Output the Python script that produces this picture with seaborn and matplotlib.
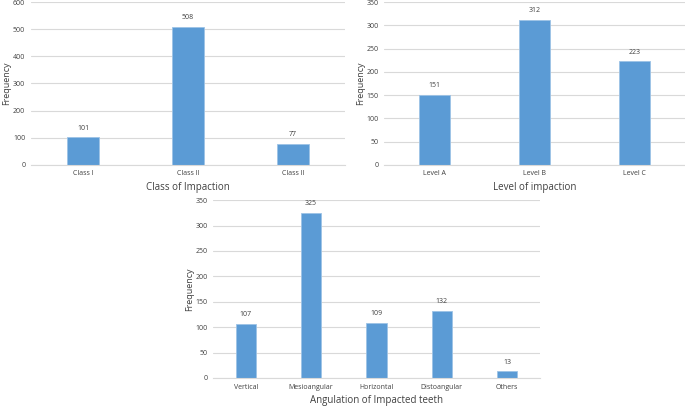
import pandas as pd
import matplotlib
matplotlib.use('Agg')
import matplotlib.pyplot as plt
import seaborn as sns

# data
class_labels = ['Class I', 'Class II', 'Class II']
class_counts = [101, 508, 77]

level_labels = ['Level A', 'Level B', 'Level C']
level_counts = [151, 312, 223]

angle_labels = ['Vertical', 'Mesioangular', 'Horizontal', 'Distoangular', 'Others']
angle_counts = [107, 325, 109, 132, 13]

BAR = '#5B9BD5'
GRID = '#D9D9D9'
TXT = '#404040'

sns.set_style('white')
plt.rcParams['font.family'] = ['Open Sans', 'DejaVu Sans']


def draw(ax, labels, counts, xlabel, ymax, step):
    df = pd.DataFrame({'cat': range(len(labels)), 'n': counts})
    sns.barplot(data=df, x='cat', y='n', ax=ax, color=BAR, width=0.31,
                saturation=1, edgecolor='#9DC3E6', linewidth=0.6)
    ax.set_xticks(range(len(labels)))
    ax.set_xticklabels(labels)
    ax.set_xlim(-0.5, len(labels) - 0.5)
    ax.set_ylim(0, ymax)
    ax.set_yticks(range(0, ymax + 1, step))
    ax.yaxis.grid(True, color=GRID, linewidth=0.8)
    ax.set_axisbelow(True)
    for s in ['top', 'right', 'left']:
        ax.spines[s].set_visible(False)
    ax.spines['bottom'].set_color(GRID)
    ax.spines['bottom'].set_linewidth(0.8)
    ax.tick_params(axis='x', length=0, labelsize=5, colors=TXT, pad=4)
    ax.tick_params(axis='y', length=0, labelsize=5, colors=TXT, pad=4)
    ax.bar_label(ax.containers[0], padding=4, fontsize=5, color=TXT)
    ax.set_xlabel(xlabel, fontsize=7, color=TXT, labelpad=3)
    ax.set_ylabel('Frequency', fontsize=6.5, color=TXT, labelpad=1)


fig = plt.figure(figsize=(6.85, 4.07), dpi=100)
ax1 = fig.add_axes([0.045, 0.595, 0.459, 0.40])
ax2 = fig.add_axes([0.561, 0.595, 0.439, 0.40])
ax3 = fig.add_axes([0.311, 0.0713, 0.477, 0.437])

draw(ax1, class_labels, class_counts, 'Class of Impaction', 600, 100)
draw(ax2, level_labels, level_counts, 'Level of impaction', 350, 50)
draw(ax3, angle_labels, angle_counts, 'Angulation of Impacted teeth', 350, 50)

fig.savefig('out.png', dpi=100)
